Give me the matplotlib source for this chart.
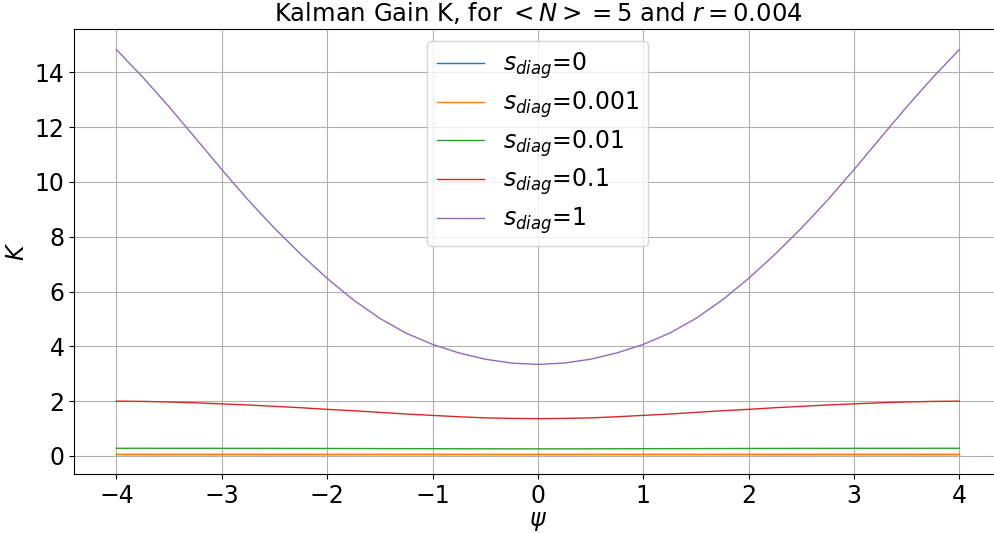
import numpy as np
from matplotlib import pyplot as plt

# values
psi = [-4.0, -3.75, -3.5, -3.25, -3.0, -2.75, -2.5, -2.25, -2.0, -1.75, -1.5, -1.25, -1.0, -0.75, -0.5, -0.25,
       0.0, 0.25, 0.5, 0.75, 1.0, 1.25, 1.5, 1.75, 2.0, 2.25, 2.5, 2.75, 3.0, 3.25, 3.5, 3.75, 4.0]

k_s0 = [0.068] * 33
k_s0001 = [0.073] * 33
k_s001 = [0.280, 0.280, 0.279, 0.279, 0.278, 0.277, 0.276, 0.275, 0.273, 0.271, 0.269, 0.267, 0.265, 0.263,
          0.261, 0.260, 0.259, 0.260, 0.261, 0.263, 0.265, 0.267, 0.269, 0.271, 0.273, 0.275, 0.276, 0.277,
          0.278, 0.279, 0.279, 0.280, 0.280]
k_s01 = [2.00, 1.99, 1.97, 1.94, 1.90, 1.86, 1.81, 1.76, 1.70, 1.65, 1.59, 1.53, 1.48, 1.43, 1.39, 1.37,
         1.36, 1.37, 1.39, 1.43, 1.48, 1.53, 1.59, 1.65, 1.70, 1.76, 1.81, 1.86, 1.90, 1.94, 1.97, 1.99, 2.00]
k_s1 = [14.83, 13.82, 12.74, 11.60, 10.45, 9.34, 8.31, 7.36, 6.48, 5.69, 5.02, 4.48, 4.07, 3.76, 3.53, 3.39,
        3.34, 3.39, 3.53, 3.76, 4.07, 4.48, 5.02, 5.69, 6.48, 7.36, 8.31, 9.34, 10.45, 11.60, 12.74, 13.82, 14.83]

s_labels = ['0', '0.001', '0.01', '0.1', '1']
series = [k_s0, k_s0001, k_s001, k_s01, k_s1]

fig = plt.figure(figsize=(9.94, 5.33), dpi=100)
ax = fig.add_axes([0.0747, 0.1101, 0.9329, 0.8349])

for s, k in zip(s_labels, series):
    ax.plot(psi, k, lw=1.0, label=r'$s_{diag}$=' + s)

ax.grid(True)
ax.set_title(r'Kalman Gain K, for $<N>=5$ and $r=0.004$', fontsize=17.5)
ax.set_xlabel(r'$\psi$', fontsize=17, labelpad=1)
ax.set_ylabel(r'$K$', fontsize=17)
ax.tick_params(labelsize=17)
ax.legend(loc='upper center', fontsize=17, labelspacing=0.34)

fig.savefig('out.png', dpi=100)
